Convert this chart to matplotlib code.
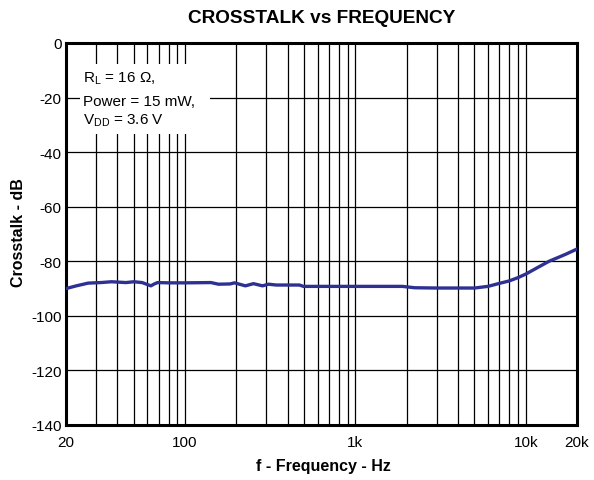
import matplotlib
matplotlib.use("Agg")
import matplotlib.pyplot as plt
from matplotlib.ticker import FixedLocator, NullFormatter
from matplotlib.patches import Rectangle

plt.rcParams['font.family'] = ['Liberation Sans', 'DejaVu Sans']
plt.rcParams['mathtext.fontset'] = 'custom'
plt.rcParams['mathtext.rm'] = 'Liberation Sans'
plt.rcParams['mathtext.it'] = 'Liberation Sans'

freq = [20, 23, 27, 32, 37, 45, 50, 56, 60, 63, 66, 69, 80, 100, 142, 157, 184, 195, 226, 252, 285, 309, 343, 469, 496,
        800, 1200, 1890, 2230, 3000, 4000, 5000, 6000, 7000, 8000, 9000, 10000, 11500, 13700, 15500, 17200, 20000]
crosstalk = [-90.0, -89.0, -88.0, -87.8, -87.5, -87.8, -87.5, -87.8, -88.5, -89.0, -88.3, -87.8, -87.9, -87.9, -87.8,
             -88.4, -88.3, -87.9, -89.0, -88.2, -89.0, -88.4, -88.7, -88.7, -89.2,
             -89.2, -89.2, -89.2, -89.7, -89.8, -89.8, -89.8, -89.2, -88.1, -87.2, -86.0, -84.7, -82.6, -80.0, -78.6, -77.4, -75.5]

xticks = [20, 100, 1000, 10000, 20000]
xticklabels = ['20', '100', '1k', '10k', '20k']
yticks = [0, -20, -40, -60, -80, -100, -120, -140]
notes = ['R$_{\\mathrm{L}}$ = 16 \u03a9,', 'Power = 15 mW,', 'V$_{\\mathrm{DD}}$ = 3.6 V']

W, H = 594, 481
fig = plt.figure(figsize=(W/100, H/100), dpi=100)
L, R, T, B = 66, 577, 44, 426
ax = fig.add_axes([L/W, 1-B/H, (R-L)/W, (B-T)/H])

ax.set_xscale('log')
ax.set_xlim(20, 20000)
ax.set_ylim(-140, 0)

minor = [f for dec in (10, 100, 1000, 10000) for f in [dec*k for k in range(2, 10)] if 20 < f < 20000 and f not in (100, 1000, 10000)]
ax.xaxis.set_major_locator(FixedLocator(xticks))
ax.set_xticklabels(xticklabels)
ax.xaxis.set_minor_locator(FixedLocator(minor))
ax.xaxis.set_minor_formatter(NullFormatter())
ax.set_yticks(yticks)
ax.set_yticklabels([str(v) for v in yticks])

ax.grid(True, which='both', axis='x', color='black', lw=0.9)
ax.grid(True, which='major', axis='y', color='black', lw=0.9)
ax.tick_params(which='both', length=0, labelsize=11)
ax.tick_params(axis='y', pad=3)
ax.tick_params(axis='x', pad=7)
for s in ax.spines.values():
    s.set_linewidth(2.2)

ax.plot(freq, crosstalk, color='#2e3192', lw=2.4, zorder=3)

fig.text(0.5*(L+R)/W, 1-18.5/H, 'CROSSTALK vs FREQUENCY', fontsize=13.7, fontweight='bold', ha='center', va='center')
fig.text(323/W, 1-466/H, 'f - Frequency - Hz', fontsize=11.5, fontweight='bold', ha='center', va='center')
fig.text(19/W, 1-233/H, 'Crosstalk - dB', fontsize=11.5, fontweight='bold', ha='center', va='center', rotation=90)

# white box behind annotation
bx0, bx1, by0, by1 = 80, 210, 65, 135
ax.add_patch(Rectangle((bx0/W, 1-by1/H), (bx1-bx0)/W, (by1-by0)/H, transform=fig.transFigure,
                       facecolor='white', edgecolor='none', zorder=4))
for txt, ytop in zip(notes, [71, 95, 113]):
    fig.text(83/W, 1-ytop/H, txt, fontsize=11, ha='left', va='top', zorder=5)

fig.savefig('out.png', dpi=100)
